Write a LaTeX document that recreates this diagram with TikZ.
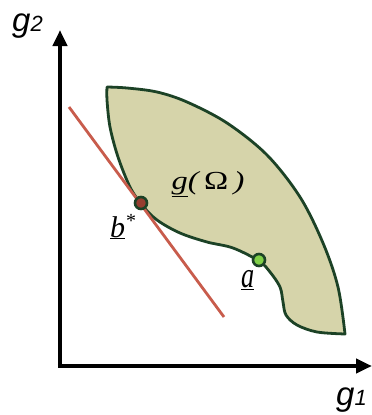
\documentclass[tikz,border=0pt]{standalone}
\usepackage{fontspec}
\usetikzlibrary{arrows.meta}
\newfontfamily\arialfont{Liberation Sans}
\newfontfamily\timesfont{Liberation Serif}
\definecolor{regionfill}{RGB}{214,212,170}
\definecolor{regionedge}{RGB}{28,66,38}
\definecolor{redline}{RGB}{200,92,76}
\definecolor{bdot}{RGB}{150,62,48}
\definecolor{adot}{RGB}{128,208,72}
\begin{document}
\begin{tikzpicture}[x=1pt,y=-1pt,
  axis/.style={line width=4.5pt,-{Triangle[length=16pt,width=14pt]}},
  edge/.style={line width=2.8pt,draw=regionedge,fill=regionfill,line join=round},
  tangent/.style={line width=2.8pt,draw=redline},
  pointdot/.style={circle,draw=regionedge,line width=2.6pt,minimum size=12pt,inner sep=0pt},
  axlabel/.style={inner sep=0pt,font=\arialfont\itshape},
  sublabel/.style={inner sep=0pt,font=\timesfont\itshape}]
\useasboundingbox (0,0) rectangle (372,415);
% region
\path[edge] plot[smooth,tension=0.55] coordinates {(107,87) (127,88) (157,92) (187,102) (227,123) (267,155) (300,197) (323,243) (338,287) (345,334)}
  -- plot[smooth,tension=0.55] coordinates {(345,334) (317,332) (297,325) (286,315) (283,302) (280,287) (270,272) (259,261) (233,248) (207,242) (180,233) (157,220) (142,205) (130,187) (118,157) (110,127) (107,100) (107,87)} -- cycle;
% tangent line
\coordinate (t1) at (69,107);
\coordinate (t2) at (224,317);
\draw[tangent] (t1) -- (t2);
% axes
\coordinate (o) at (60,366);
\coordinate (ytip) at (60,30);
\coordinate (xtip) at (372,366);
\draw[axis] (o) -- (ytip);
\draw[axis] ([xshift=-2.2pt]o) -- (xtip);
% points
\node[pointdot,fill=bdot] (b) at (141,203) {};
\node[pointdot,fill=adot] (a) at (259,260) {};
% labels
\node[axlabel,anchor=base west] (g2) at (12,31) {\fontsize{33}{33}\selectfont g\fontsize{22}{22}\selectfont 2};
\node[axlabel,anchor=base west] (g1) at (336,405) {\fontsize{33}{33}\selectfont g\fontsize{22}{22}\selectfont 1};
\node[sublabel,anchor=base] (omega) at (208,189) {\scalebox{1.25}[1]{\fontsize{26}{26}\selectfont\underline{g}(\,{\upshape Ω}\,)}};
\node[sublabel,anchor=base west] (blab) at (110,237) {\fontsize{30}{30}\selectfont\underline{b}\hspace{1pt}\raisebox{10pt}{\fontsize{20}{20}\selectfont\upshape *}};
\node[sublabel,anchor=base west] (alab) at (241,287) {\scalebox{1.05}[1.45]{\fontsize{25}{25}\selectfont\underline{a}}};
\end{tikzpicture}
\end{document}
